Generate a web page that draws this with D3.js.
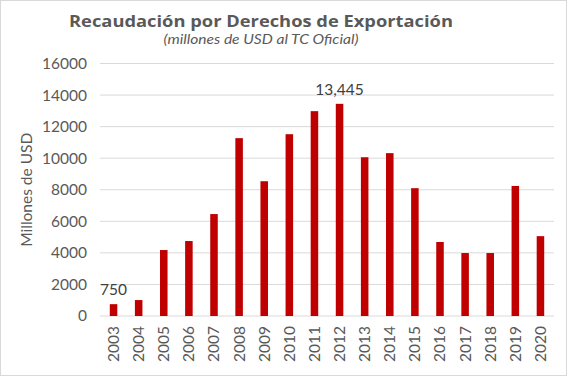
<!DOCTYPE html>
<html>
<head>
<meta charset="utf-8">
<script src="https://cdn.jsdelivr.net/npm/d3@7"></script>
<style>
  body { margin: 0; background: #fff; }
  text { font-family: "Lato", "Noto Sans", sans-serif; }
</style>
</head>
<body>
<div id="vis"></div>
<script>
// data
let years = ["2003","2004","2005","2006","2007","2008","2009","2010","2011",
             "2012","2013","2014","2015","2016","2017","2018","2019","2020"];
let values = [750, 1010, 4180, 4750, 6460, 11270, 8540, 11520, 12980,
              13445, 10060, 10320, 8100, 4690, 3990, 3990, 8240, 5060];
let yTicks = [0, 2000, 4000, 6000, 8000, 10000, 12000, 14000, 16000];
let labelled = {"2003": "750", "2012": "13,445"};

let W = 569, H = 378;
let margin = {top: 63.5, left: 101, right: 16, bottom: 62};
let width = W - margin.left - margin.right,
    height = H - margin.top - margin.bottom;

let svg = d3.select('#vis')
  .append('svg')
  .attr('width', W)
  .attr('height', H);

// outer frame
svg.append('rect')
  .attr('x', 0.5).attr('y', 0.5)
  .attr('width', W - 3).attr('height', H - 3)
  .attr('fill', '#fff')
  .attr('stroke', '#d9d9d9');

let g = svg.append('g')
  .attr('transform', 'translate(' + margin.left + ',' + margin.top + ')');

let xScale = d3.scaleBand()
  .domain(years)
  .range([0, width])
  .paddingInner(0.7)
  .paddingOuter(0.35);

let yScale = d3.scaleLinear()
  .domain([0, 16000])
  .range([height, 0]);

// gridlines
g.append('g')
  .selectAll('line')
  .data(yTicks)
  .enter()
  .append('line')
    .attr('x1', -1).attr('x2', width + 1)
    .attr('y1', d => yScale(d)).attr('y2', d => yScale(d))
    .attr('stroke', '#d9d9d9')
    .attr('stroke-width', 1);

// y axis (labels only)
let yAxis = g.append('g')
  .call(d3.axisLeft(yScale).tickValues(yTicks).tickSize(0).tickPadding(14).tickFormat(d3.format('d')));
yAxis.select('.domain').remove();
yAxis.selectAll('text')
  .attr('fill', '#595959')
  .style('font-size', '15.5px')
  .style('font-family', 'Lato, "Noto Sans", sans-serif');

// x axis, rotated labels
let xAxis = g.append('g')
  .attr('transform', 'translate(0,' + height + ')')
  .call(d3.axisBottom(xScale).tickSize(0));
xAxis.select('.domain').remove();
xAxis.selectAll('text')
  .attr('transform', 'rotate(-90)')
  .attr('x', -10)
  .attr('y', 0)
  .attr('dy', '0.35em')
  .style('text-anchor', 'end')
  .attr('fill', '#595959')
  .style('font-size', '15.5px')
  .style('font-family', 'Lato, "Noto Sans", sans-serif');

// bars
g.append('g')
  .selectAll('rect')
  .data(years)
  .enter()
  .append('rect')
    .attr('x', (d) => xScale(d))
    .attr('y', (d, i) => yScale(values[i]))
    .attr('width', xScale.bandwidth())
    .attr('height', (d, i) => height - yScale(values[i]))
    .attr('fill', '#c00000');

// data labels
g.append('g')
  .selectAll('text')
  .data(years.filter(d => labelled[d]))
  .enter()
  .append('text')
    .attr('x', d => xScale(d) + xScale.bandwidth() / 2)
    .attr('y', d => yScale(values[years.indexOf(d)]) - 9)
    .attr('text-anchor', 'middle')
    .attr('fill', '#404040')
    .style('font-size', '15.5px')
    .text(d => labelled[d]);

// y axis title
svg.append('text')
  .attr('transform', 'translate(32,' + (margin.top + height / 2) + ') rotate(-90)')
  .attr('text-anchor', 'middle')
  .attr('fill', '#595959')
  .style('font-size', '15.5px')
  .text('Millones de USD');

// title + subtitle
svg.append('text')
  .attr('x', 261).attr('y', 26.5)
  .attr('text-anchor', 'middle')
  .attr('fill', '#595959')
  .style('font-size', '16.5px')
  .style('font-family', '"Open Sans", sans-serif')
  .style('font-weight', 'bold')
  .attr('textLength', 384)
  .attr('lengthAdjust', 'spacingAndGlyphs')
  .text('Recaudación por Derechos de Exportación');

svg.append('text')
  .attr('x', 261).attr('y', 44)
  .attr('text-anchor', 'middle')
  .attr('fill', '#595959')
  .style('font-size', '12.5px')
  .style('font-style', 'italic')
  .attr('textLength', 195)
  .attr('lengthAdjust', 'spacingAndGlyphs')
  .text('(millones de USD al TC Oficial)');
</script>
</body>
</html>
